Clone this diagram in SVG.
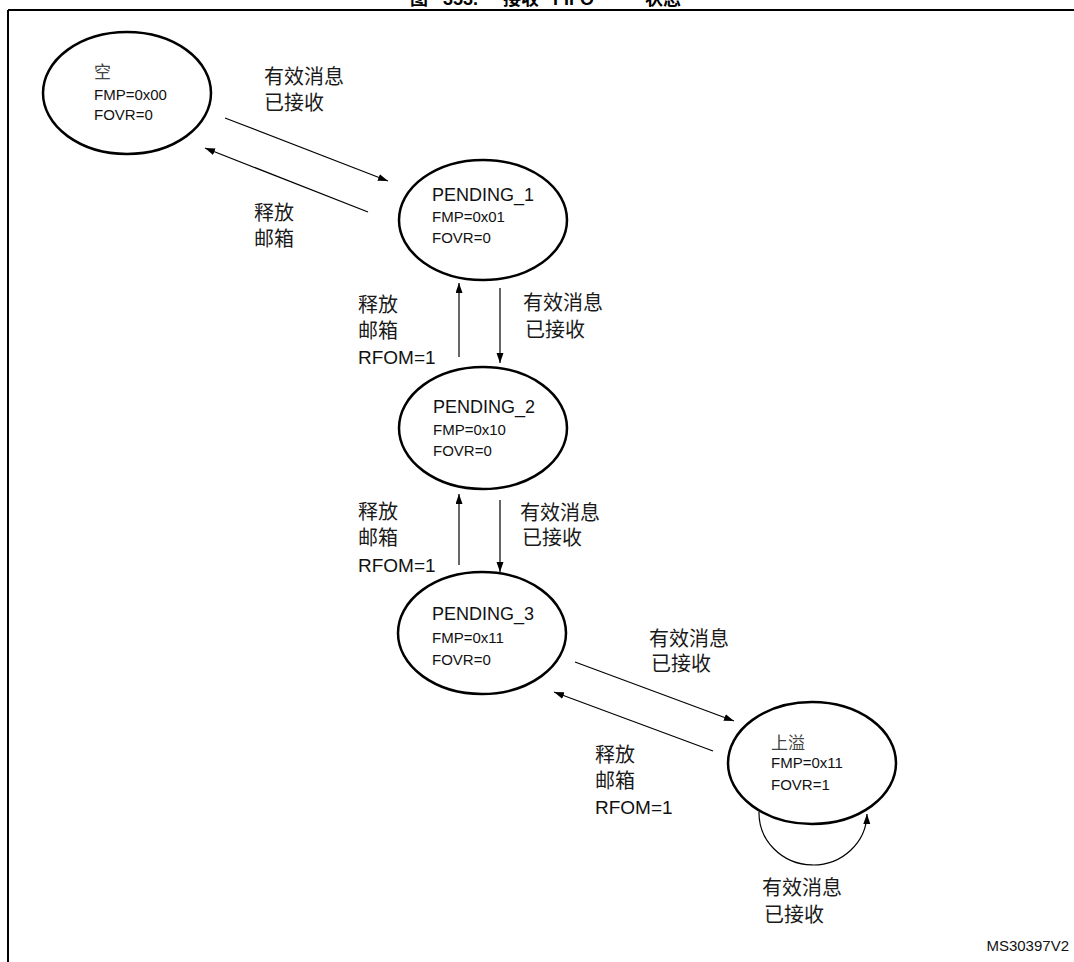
<svg xmlns="http://www.w3.org/2000/svg" width="1074" height="962" viewBox="0 0 1074 962">
<style>
.st{fill:#fff;stroke:#000;stroke-width:2.5}
.ln{fill:none;stroke:#000;stroke-width:1.2}
.t{font-family:"Liberation Sans","Noto Sans CJK SC",sans-serif;fill:#111}
.big{font-size:18px}
.sm{font-size:15px}
.cn{font-family:"Noto Sans CJK SC","Liberation Sans",sans-serif;font-size:17px;fill:#444}
.lb{font-family:"Liberation Sans","Noto Sans CJK SC",sans-serif;font-size:20px;fill:#1a1a1a}
.rf{font-family:"Liberation Sans",sans-serif;font-size:19px;fill:#111}
</style>
<defs>
<marker id="ah" markerWidth="11" markerHeight="8" refX="10" refY="3.5" orient="auto" markerUnits="userSpaceOnUse">
<path d="M0,0 L10,3.5 L0,7 z" fill="#000"/>
</marker>
</defs>
<rect width="1074" height="962" fill="#fff"/>
<g id="frame">
<line x1="8" y1="10" x2="1074" y2="10" stroke="#000" stroke-width="2"/>
<line x1="8" y1="10" x2="8" y2="962" stroke="#000" stroke-width="2"/>
<text x="410" y="5" font-family="Liberation Sans,'Noto Sans CJK SC',sans-serif" font-size="18" font-weight="bold">图<tspan x="443">353.</tspan><tspan x="503">接收</tspan><tspan x="553">FIFO</tspan><tspan x="645">状态</tspan></text>
</g>
<g id="connectors">
<line class="ln" x1="225" y1="118" x2="388" y2="181" marker-end="url(#ah)"/>
<line class="ln" x1="368" y1="212" x2="205" y2="148" marker-end="url(#ah)"/>
<line class="ln" x1="459" y1="357" x2="459" y2="283" marker-end="url(#ah)"/>
<line class="ln" x1="500" y1="288" x2="500" y2="363" marker-end="url(#ah)"/>
<line class="ln" x1="459" y1="565" x2="459" y2="494" marker-end="url(#ah)"/>
<line class="ln" x1="500" y1="500" x2="500" y2="572" marker-end="url(#ah)"/>
<line class="ln" x1="575" y1="662" x2="734" y2="721" marker-end="url(#ah)"/>
<line class="ln" x1="713" y1="751" x2="554" y2="692" marker-end="url(#ah)"/>
<path class="ln" d="M759,812 A54,52 0 0 0 867,814" marker-end="url(#ah)"/>
<text class="lb" x="264" y="84">有效消息</text>
<text class="lb" x="264" y="110">已接收</text>
<text class="lb" x="254" y="220">释放</text>
<text class="lb" x="254" y="246">邮箱</text>
<text class="lb" x="358" y="312">释放</text>
<text class="lb" x="358" y="338">邮箱</text>
<text class="rf" x="358" y="364">RFOM=1</text>
<text class="lb" x="523" y="310">有效消息</text>
<text class="lb" x="525" y="337">已接收</text>
<text class="lb" x="358" y="519">释放</text>
<text class="lb" x="358" y="545">邮箱</text>
<text class="rf" x="358" y="572">RFOM=1</text>
<text class="lb" x="520" y="520">有效消息</text>
<text class="lb" x="522" y="545">已接收</text>
<text class="lb" x="649" y="646">有效消息</text>
<text class="lb" x="651" y="671">已接收</text>
<text class="lb" x="595" y="762">释放</text>
<text class="lb" x="595" y="788">邮箱</text>
<text class="rf" x="595" y="814">RFOM=1</text>
<text class="lb" x="762" y="895">有效消息</text>
<text class="lb" x="764" y="922">已接收</text>
</g>
<g id="empty">
<ellipse class="st" cx="127" cy="93" rx="84" ry="61"/>
<text class="cn" x="94" y="78">空</text>
<text class="t sm" x="94" y="100">FMP=0x00</text>
<text class="t sm" x="94" y="120">FOVR=0</text>
</g>
<g id="pending1">
<ellipse class="st" cx="483" cy="220" rx="84" ry="60"/>
<text class="t big" x="432" y="201">PENDING_1</text>
<text class="t sm" x="432" y="222">FMP=0x01</text>
<text class="t sm" x="432" y="243">FOVR=0</text>
</g>
<g id="pending2">
<ellipse class="st" cx="483" cy="428" rx="84" ry="61"/>
<text class="t big" x="433" y="413">PENDING_2</text>
<text class="t sm" x="433" y="435">FMP=0x10</text>
<text class="t sm" x="433" y="456">FOVR=0</text>
</g>
<g id="pending3">
<ellipse class="st" cx="482" cy="633" rx="84" ry="61"/>
<text class="t big" x="432" y="620">PENDING_3</text>
<text class="t sm" x="432" y="643">FMP=0x11</text>
<text class="t sm" x="432" y="665">FOVR=0</text>
</g>
<g id="overflow">
<ellipse class="st" cx="812" cy="763" rx="84" ry="61"/>
<text class="cn" x="771" y="749">上溢</text>
<text class="t sm" x="771" y="768">FMP=0x11</text>
<text class="t sm" x="771" y="790">FOVR=1</text>
</g>
<g id="footer">
<text class="t sm" x="1069" y="951" text-anchor="end">MS30397V2</text>
</g>
</svg>
